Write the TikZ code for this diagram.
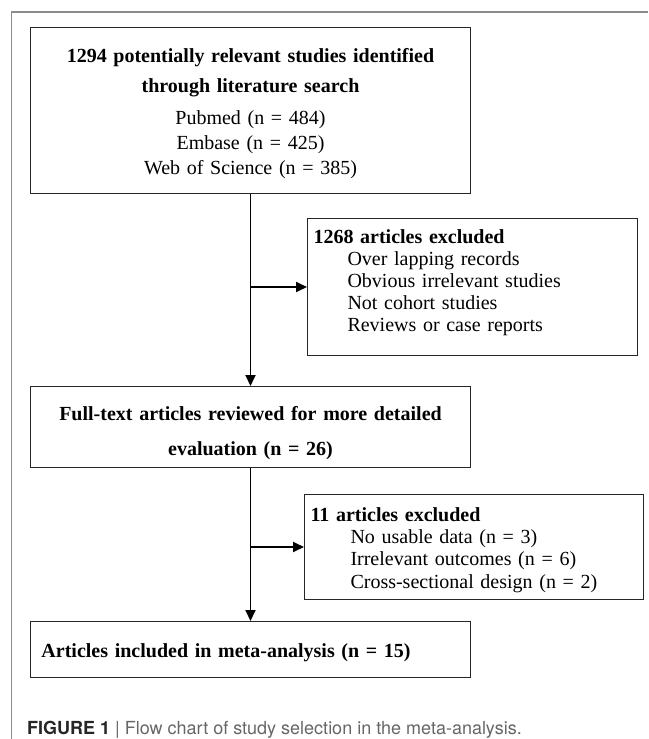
\documentclass[tikz,border=0pt]{standalone}
\usepackage{fontspec}
\setmainfont{Liberation Serif}
\newfontfamily\capfont{TeX Gyre Heros}
\usetikzlibrary{arrows.meta}

\begin{document}
\begin{tikzpicture}[x=1pt,y=-1pt,
    box/.style={draw=black!85, line width=1pt, inner ysep=0pt, anchor=north west},
    flow/.style={line width=1.8pt, -{Triangle[length=11pt,width=10pt]}}]
    \useasboundingbox (0,0) rectangle (648,739);
    % frame of the figure
    \draw[black!45, line width=1.2pt] (648,12) -- (11.5,12) -- (11.5,739);

    \node[box, text width=428pt, inner xsep=6pt, align=center, text height=34.6pt, text depth=131.4pt,
      font=\fontsize{20}{25}\selectfont] (search) at (30,27)
      {\textbf{1294 potentially relevant studies identified}\\[5pt]
       \textbf{through literature search}\\[7pt]
       Pubmed (n = 484)\\
       Embase (n = 425)\\
       Web of Science (n = 385)};

    \node[box, text width=318pt, inner xsep=6pt, align=left, text height=25pt, text depth=112pt,
      font=\fontsize{20}{22}\selectfont] (excl1) at (307,218)
      {\textbf{1268 articles excluded}\\
       \hspace*{34pt}Over lapping records\\
       \hspace*{34pt}Obvious irrelevant studies\\
       \hspace*{34pt}Not cohort studies\\
       \hspace*{34pt}Reviews or case reports};

    \node[box, text width=428pt, inner xsep=6pt, align=center, text height=33.6pt, text depth=47.4pt,
      font=\fontsize{20}{25}\selectfont\bfseries] (fulltext) at (30,386)
      {Full-text articles reviewed for more detailed\\[10pt]
       evaluation (n = 26)};

    \node[box, text width=327pt, inner xsep=6pt, align=left, text height=26.6pt, text depth=78.4pt,
      font=\fontsize{20}{22.3}\selectfont] (excl2) at (304,494)
      {\textbf{11 articles excluded}\\
       \hspace*{40pt}No usable data (n = 3)\\
       \hspace*{40pt}Irrelevant outcomes (n = 6)\\
       \hspace*{40pt}Cross-sectional design (n = 2)};

    \node[box, text width=418pt, inner xsep=11pt, align=left, text height=35.6pt, text depth=20.4pt,
      font=\fontsize{20}{25}\selectfont\bfseries] (included) at (30,621)
      {Articles included in meta-analysis (n = 15)};

    \coordinate (b1) at (search.south |- excl1.west);
    \coordinate (b2) at (fulltext.south |- excl2.west);
    \draw[flow] (search.south) -- (fulltext.north);
    \draw[flow] (fulltext.south) -- (included.north);
    \draw[flow] (b1) -- (excl1.west);
    \draw[flow] (b2) -- (excl2.west);

    \node[anchor=base west, inner sep=0pt, text=black!60, font=\capfont\fontsize{18}{20}\selectfont] (caption) at (27,734.5)
      {\textcolor{black!85}{\bfseries FIGURE 1} | Flow chart of study selection in the meta-analysis.};
\end{tikzpicture}
\end{document}
